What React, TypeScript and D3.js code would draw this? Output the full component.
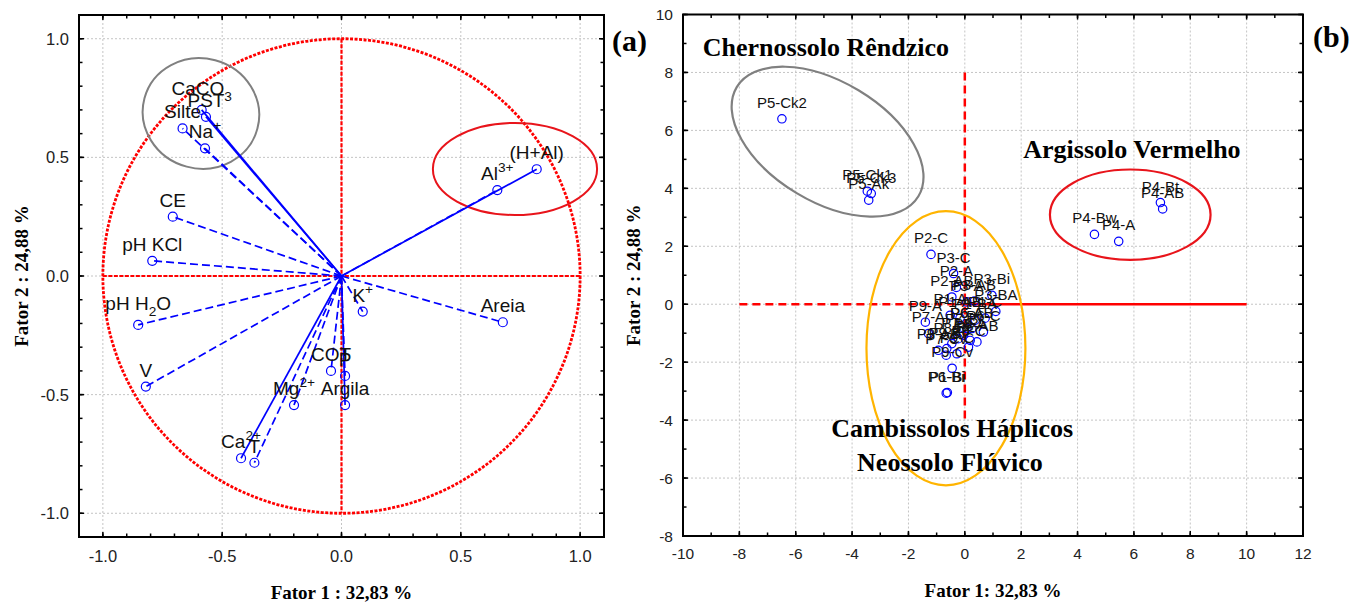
import React from "react";
import * as d3 from "d3";

// ---------- Panel (a): variable loadings ----------
const varNames = ["CaCO3", "PST", "Silte", "Na+", "CE", "pH KCl", "pH H2O", "V", "K+", "Areia", "Al3+", "(H+Al)", "Ca2+", "T", "Mg2+", "COT", "P", "Argila"];
const varF1 = [-0.586, -0.568, -0.666, -0.572, -0.707, -0.793, -0.852, -0.820, 0.089, 0.676, 0.653, 0.818, -0.421, -0.365, -0.199, -0.044, 0.015, 0.015];
const varF2 = [0.700, 0.671, 0.622, 0.538, 0.250, 0.064, -0.206, -0.466, -0.150, -0.195, 0.362, 0.450, -0.768, -0.787, -0.544, -0.400, -0.421, -0.544];
const varSolid = [true, true, false, false, false, false, false, false, false, false, false, true, true, false, false, false, false, true];

const aTicks = [-1.0, -0.5, 0.0, 0.5, 1.0];
const aTickLabels = ["-1.0", "-0.5", "0.0", "0.5", "1.0"];

// ellipses (data units): cx, cy, rx, ry, angle
const aEllipseCx = [-0.589, 0.727];
const aEllipseCy = [0.685, 0.451];
const aEllipseRx = [0.245, 0.344];
const aEllipseRy = [0.232, 0.194];
const aEllipseAngle = [15, 0];
const aEllipseColor = ["#808080", "#e8141b"];

// ---------- Panel (b): sample scores ----------
const sampleNames = [
  "P5-Ck2", "P5-Ck1", "P5-Ck3", "P5-Ak",
  "P4-Bt", "P4-AB", "P4-Bw", "P4-A",
  "P2-C", "P3-C", "P2-A", "P2-AB", "P3-A", "P3-AB", "P3-Bi", "P3-BA",
  "P1-A", "P1-AB", "P1-BA", "P1-C", "P9-A", "P7-A", "P6-A", "P6-AB", "P6-C",
  "P7-Bi", "P7-C", "P8-A", "P8-AB", "P8-Bi", "P8-C", "P9-AB", "P9-Bi", "P9-C",
  "P7-Cv", "P9-Cv", "P6-Bi", "P1-Bi"
];
const sampleF1 = [
  -6.49, -3.46, -3.32, -3.41,
  6.94, 7.02, 4.60, 5.46,
  -1.20, -0.40, -0.30, -0.46, 0.07, 0.34, 0.96, 1.10,
  -0.52, -0.17, 0.37, 0.72, -1.40, -1.29, 0.07, 0.25, 0.66,
  -0.05, -0.23, 0.19, 0.43, -0.46, 0.13, -0.94, -0.64, -0.28,
  -0.66, -0.45, -0.66, -0.62
];
const sampleF2 = [
  6.40, 3.90, 3.82, 3.59,
  3.51, 3.29, 2.41, 2.17,
  1.72, 1.06, 0.58, 0.25, 0.08, 0.11, 0.31, -0.25,
  -0.38, -0.48, -0.55, -0.48, -0.62, -1.01, -0.84, -0.84, -0.96,
  -1.07, -1.19, -1.25, -1.30, -1.36, -1.48, -1.59, -1.53, -1.71,
  -1.76, -2.21, -3.07, -3.05
];

const bTicksX = [-10, -8, -6, -4, -2, 0, 2, 4, 6, 8, 10, 12];
const bTicksY = [-8, -6, -4, -2, 0, 2, 4, 6, 8, 10];

const bEllipseCx = [-4.87, -0.67, 5.87];
const bEllipseCy = [5.61, -1.52, 3.09];
const bEllipseRx = [3.76, 2.82, 2.85];
const bEllipseRy = [2.07, 4.73, 1.56];
const bEllipseAngle = [31, 0, 0];
const bEllipseColor = ["#808080", "#ffb400", "#e8141b"];

const bGroupNames = ["Chernossolo Rêndzico", "Argissolo Vermelho", "Cambissolos Háplicos", "Neossolo Flúvico"];
const bGroupX = [-4.93, 5.93, -0.45, -0.53];
const bGroupY = [8.57, 5.05, -4.58, -5.76];

// rich-text pieces: 0 normal, 1 superscript, -1 subscript
const richParts: Record<string, [string, number][]> = {
  "CaCO3": [["CaCO", 0], ["3", -1]],
  "pH H2O": [["pH H", 0], ["2", -1], ["O", 0]],
  "Na+": [["Na", 0], ["+", 1]],
  "K+": [["K", 0], ["+", 1]],
  "Al3+": [["Al", 0], ["3+", 1]],
  "Ca2+": [["Ca", 0], ["2+", 1]],
  "Mg2+": [["Mg", 0], ["2+", 1]],
};

const SANS = "'Liberation Sans', Arial, Helvetica, sans-serif";
const SERIF = "'Liberation Serif', 'Times New Roman', Times, serif";

function RichLabel({ name, x, y, size }: { name: string; x: number; y: number; size: number }) {
  const parts = richParts[name] || [[name, 0]];
  let cur = 0;
  return (
    <text x={x} y={y} fontSize={size} fontFamily={SANS} textAnchor="middle" fill="#111">
      {parts.map(([t, k], i) => {
        const target = k === 1 ? -0.42 * size : k === -1 ? 0.3 * size : 0;
        const dy = target - cur;
        cur = target;
        return (
          <tspan key={i} dy={dy} fontSize={k === 0 ? size : size * 0.72}>
            {t}
          </tspan>
        );
      })}
    </text>
  );
}

function Frame({ x0, x1, y0, y1, xMajor, xMinor, yMajor, yMinor, xs, ys }: any) {
  const items: any[] = [];
  const majL = 5, minL = 3.5;
  xMinor.forEach((v: number, i: number) => {
    const px = xs(v);
    items.push(<line key={"xb" + i} x1={px} x2={px} y1={y0} y2={y0 - minL} stroke="#000" strokeWidth={1.5} />);
    items.push(<line key={"xt" + i} x1={px} x2={px} y1={y1} y2={y1 + minL} stroke="#000" strokeWidth={1.5} />);
  });
  xMajor.forEach((v: number, i: number) => {
    const px = xs(v);
    items.push(<line key={"Xb" + i} x1={px} x2={px} y1={y0} y2={y0 - majL} stroke="#000" strokeWidth={1.5} />);
    items.push(<line key={"Xt" + i} x1={px} x2={px} y1={y1} y2={y1 + majL} stroke="#000" strokeWidth={1.5} />);
  });
  yMinor.forEach((v: number, i: number) => {
    const py = ys(v);
    items.push(<line key={"yl" + i} x1={x0} x2={x0 + minL} y1={py} y2={py} stroke="#000" strokeWidth={1.5} />);
    items.push(<line key={"yr" + i} x1={x1} x2={x1 - minL} y1={py} y2={py} stroke="#000" strokeWidth={1.5} />);
  });
  yMajor.forEach((v: number, i: number) => {
    const py = ys(v);
    items.push(<line key={"Yl" + i} x1={x0} x2={x0 + majL} y1={py} y2={py} stroke="#000" strokeWidth={1.5} />);
    items.push(<line key={"Yr" + i} x1={x1} x2={x1 - majL} y1={py} y2={py} stroke="#000" strokeWidth={1.5} />);
  });
  return (
    <g>
      {items}
      <rect x={x0} y={y1} width={x1 - x0} height={y0 - y1} fill="none" stroke="#000" strokeWidth={2} />
    </g>
  );
}

export default function App() {
  // Panel (a) scales
  const xA = d3.scaleLinear().domain([-1.1, 1.1]).range([79, 604]);
  const yA = d3.scaleLinear().domain([-1.1, 1.1]).range([537, 15]);
  // Panel (b) scales
  const xB = d3.scaleLinear().domain([-10, 12]).range([683, 1303]);
  const yB = d3.scaleLinear().domain([-8, 10]).range([536, 14.5]);

  const aMinor = d3.range(-11, 12).map((d) => d / 10);
  const bMinorX = d3.range(-10, 13, 1);
  const bMinorY = d3.range(-8, 11, 1);

  const gridStroke = "#c4c4c4";

  return (
    <svg width={1367} height={604} style={{ position: "absolute", left: 0, top: 0, background: "#fff" }}>
      <rect x={0} y={0} width={1367} height={604} fill="#fff" />
      {/* ================= Panel (a) ================= */}
      <g>
        {aTicks.map((t, i) => (
          <g key={"ga" + i}>
            <line x1={xA(t)} x2={xA(t)} y1={yA(1.1)} y2={yA(-1.1)} stroke={gridStroke} strokeDasharray="2,2" strokeWidth={1} />
            <line x1={xA(-1.1)} x2={xA(1.1)} y1={yA(t)} y2={yA(t)} stroke={gridStroke} strokeDasharray="2,2" strokeWidth={1} />
          </g>
        ))}
        {/* unit circle */}
        <ellipse cx={xA(0)} cy={yA(0)} rx={xA(1) - xA(0)} ry={yA(0) - yA(1)} fill="none" stroke="#ff0000" strokeWidth={2.8} strokeDasharray="3,1.5" />
        <line x1={xA(0)} x2={xA(0)} y1={yA(1)} y2={yA(-1)} stroke="#ff0000" strokeWidth={2.2} strokeDasharray="4,1.5" />
        <line x1={xA(-1)} x2={xA(1)} y1={yA(0)} y2={yA(0)} stroke="#ff0000" strokeWidth={2.2} strokeDasharray="4,1.5" />
        {/* ellipses */}
        {aEllipseCx.map((cx, i) => {
          const px = xA(cx), py = yA(aEllipseCy[i]);
          return (
            <ellipse key={"ea" + i} cx={px} cy={py} rx={xA(cx + aEllipseRx[i]) - px} ry={py - yA(aEllipseCy[i] + aEllipseRy[i])}
              transform={`rotate(${aEllipseAngle[i]},${px},${py})`} fill="none" stroke={aEllipseColor[i]} strokeWidth={2} />
          );
        })}
        {/* vectors */}
        {varNames.map((n, i) => (
          <line key={"va" + i} x1={xA(0)} y1={yA(0)} x2={xA(varF1[i])} y2={yA(varF2[i])} stroke="#0000ff" strokeWidth={1.7}
            strokeDasharray={varSolid[i] ? undefined : "8,4"} />
        ))}
        {varNames.map((n, i) => (
          <circle key={"ca" + i} cx={xA(varF1[i])} cy={yA(varF2[i])} r={4.5} fill="none" stroke="#0000ff" strokeWidth={1.2} />
        ))}
        {varNames.map((n, i) => {
          const hasSub = (richParts[n] || []).some((p) => p[1] === -1);
          return <RichLabel key={"la" + i} name={n} x={xA(varF1[i])} y={yA(varF2[i]) - (hasSub ? 15 : 10)} size={19} />;
        })}
        <Frame x0={xA(-1.1)} x1={xA(1.1)} y0={yA(-1.1)} y1={yA(1.1)} xMajor={aTicks} xMinor={aMinor} yMajor={aTicks} yMinor={aMinor} xs={xA} ys={yA} />
        {aTicks.map((t, i) => (
          <text key={"tx" + i} x={xA(t)} y={562} fontSize={16.5} fontFamily={SANS} textAnchor="middle" fill="#222">{aTickLabels[i]}</text>
        ))}
        {aTicks.map((t, i) => (
          <text key={"ty" + i} x={69} y={yA(t) + 6} fontSize={16.5} fontFamily={SANS} textAnchor="end" fill="#222">{aTickLabels[i]}</text>
        ))}
        <text x={341.5} y={599} fontSize={19} fontWeight="bold" fontFamily={SERIF} textAnchor="middle">Fator 1 : 32,83 %</text>
        <text transform={`translate(28,${yA(0)}) rotate(-90)`} fontSize={19} fontWeight="bold" fontFamily={SERIF} textAnchor="middle">Fator 2 : 24,88 %</text>
        <text x={612} y={51} fontSize={30} fontWeight="bold" fontFamily={SERIF}>(a)</text>
      </g>

      {/* ================= Panel (b) ================= */}
      <g>
        {bTicksX.map((t, i) => (
          <line key={"gbx" + i} x1={xB(t)} x2={xB(t)} y1={yB(10)} y2={yB(-8)} stroke={gridStroke} strokeDasharray="2,2" strokeWidth={1} />
        ))}
        {bTicksY.map((t, i) => (
          <line key={"gby" + i} x1={xB(-10)} x2={xB(12)} y1={yB(t)} y2={yB(t)} stroke={gridStroke} strokeDasharray="2,2" strokeWidth={1} />
        ))}
        {/* cross */}
        <line x1={xB(0)} x2={xB(0)} y1={yB(8)} y2={yB(-4)} stroke="#ff0000" strokeWidth={2.5} strokeDasharray="8,5" />
        <line x1={xB(-8)} x2={xB(0)} y1={yB(0)} y2={yB(0)} stroke="#ff0000" strokeWidth={2.5} strokeDasharray="8,5" />
        <line x1={xB(0)} x2={xB(10)} y1={yB(0)} y2={yB(0)} stroke="#ff0000" strokeWidth={2.5} />
        {/* ellipses */}
        {bEllipseCx.map((cx, i) => {
          const px = xB(cx), py = yB(bEllipseCy[i]);
          return (
            <ellipse key={"eb" + i} cx={px} cy={py} rx={xB(cx + bEllipseRx[i]) - px} ry={py - yB(bEllipseCy[i] + bEllipseRy[i])}
              transform={`rotate(${bEllipseAngle[i]},${px},${py})`} fill="none" stroke={bEllipseColor[i]} strokeWidth={2.2} />
          );
        })}
        {sampleNames.map((n, i) => (
          <circle key={"cb" + i} cx={xB(sampleF1[i])} cy={yB(sampleF2[i])} r={4.2} fill="none" stroke="#0000ff" strokeWidth={1.2} />
        ))}
        {sampleNames.map((n, i) => (
          <text key={"lb" + i} x={xB(sampleF1[i])} y={yB(sampleF2[i]) - 11} fontSize={15} fontFamily={SANS} textAnchor="middle" fill="#111">{n}</text>
        ))}
        {bGroupNames.map((g, i) => (
          <text key={"gn" + i} x={xB(bGroupX[i])} y={yB(bGroupY[i])} fontSize={26} fontWeight="bold" fontFamily={SERIF} textAnchor="middle">{g}</text>
        ))}
        <Frame x0={xB(-10)} x1={xB(12)} y0={yB(-8)} y1={yB(10)} xMajor={bTicksX} xMinor={bMinorX} yMajor={bTicksY} yMinor={bMinorY} xs={xB} ys={yB} />
        {bTicksX.map((t, i) => (
          <text key={"tbx" + i} x={xB(t)} y={559} fontSize={15.5} fontFamily={SANS} textAnchor="middle" fill="#222">{String(t)}</text>
        ))}
        {bTicksY.map((t, i) => (
          <text key={"tby" + i} x={673} y={yB(t) + 5.5} fontSize={15.5} fontFamily={SANS} textAnchor="end" fill="#222">{String(t)}</text>
        ))}
        <text x={993} y={597} fontSize={19} fontWeight="bold" fontFamily={SERIF} textAnchor="middle">Fator 1: 32,83 %</text>
        <text transform={`translate(640,${yB(1)}) rotate(-90)`} fontSize={19} fontWeight="bold" fontFamily={SERIF} textAnchor="middle">Fator 2 : 24,88 %</text>
        <text x={1313} y={47} fontSize={30} fontWeight="bold" fontFamily={SERIF}>(b)</text>
      </g>
    </svg>
  );
}
